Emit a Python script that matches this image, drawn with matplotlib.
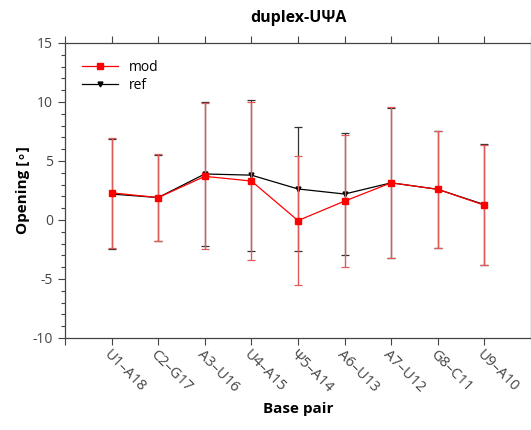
import matplotlib.pyplot as plt
from matplotlib.lines import Line2D
import numpy as np

plt.rcParams['font.family'] = ['Open Sans', 'DejaVu Sans']
plt.rcParams['axes.unicode_minus'] = False

# base pairs of the duplex and their opening angles (deg)
pairs = ['U1\u2013A18', 'C2\u2013G17', 'A3\u2013U16', 'U4\u2013A15', '\u03a85\u2013A14',
         'A6\u2013U13', 'A7\u2013U12', 'G8\u2013C11', 'U9\u2013A10']
mod_mean = [2.3, 1.9, 3.7, 3.3, -0.05, 1.6, 3.15, 2.6, 1.25]
mod_std = [4.65, 3.7, 6.2, 6.7, 5.5, 5.6, 6.4, 4.95, 5.1]
ref_mean = [2.2, 1.9, 3.9, 3.8, 2.63, 2.2, 3.15, 2.6, 1.3]
ref_std = [4.7, 3.65, 6.1, 6.4, 5.28, 5.2, 6.35, 4.95, 5.1]

x = np.arange(1, len(pairs) + 1)

fig = plt.figure(figsize=(5.31, 4.30), dpi=100)
ax = fig.add_axes([0.1224, 0.214, 0.8776, 0.686])

ax.errorbar(x, ref_mean, yerr=ref_std, color='black', lw=0.9, marker='v', ms=3.5,
            ecolor='#333333', elinewidth=0.9, capsize=3, capthick=0.9, zorder=2)
ax.errorbar(x, mod_mean, yerr=mod_std, color='#ff0000', lw=0.9, marker='s', ms=4.5,
            ecolor='#e05a5a', elinewidth=1.0, capsize=3, capthick=0.9, zorder=3)

ax.set_xlim(0, 10)
ax.set_ylim(-10, 15)
ax.set_xticks(np.arange(0, 11))
ax.set_xticklabels([''] + pairs + [''], rotation=-45, ha='left', va='top',
                   rotation_mode='anchor', fontsize=10.5, color='#444444')
ax.set_yticks([-10, -5, 0, 5, 10, 15])
ax.set_yticks(np.arange(-10, 16, 1), minor=True)
ax.tick_params(axis='y', labelsize=10, labelcolor='#444444', direction='out', length=5,
               width=0.8, color='#444444')
ax.tick_params(axis='y', which='minor', length=3, width=0.8, color='#444444')
ax.tick_params(axis='x', direction='out', length=5, width=0.8, color='#444444',
               top=True, pad=1.5)
for s in ax.spines.values():
    s.set_color('#444444')
    s.set_linewidth(0.9)

ax.set_title('duplex-U\u03a8A', fontsize=11.5, fontweight='bold', pad=15)
ax.set_ylabel('Opening [\u2218]', fontsize=11, fontweight='bold', labelpad=2)
ax.set_xlabel('Base pair', fontsize=11, fontweight='bold', labelpad=5)

handles = [Line2D([], [], color='#ff0000', lw=0.9, marker='s', ms=4.5),
           Line2D([], [], color='black', lw=0.9, marker='v', ms=3.5)]
ax.legend(handles, ['mod', 'ref'], loc='upper left', frameon=False, fontsize=10,
          handlelength=2.6, borderaxespad=0.8, labelspacing=0.25)

fig.savefig('out.png', dpi=100)
